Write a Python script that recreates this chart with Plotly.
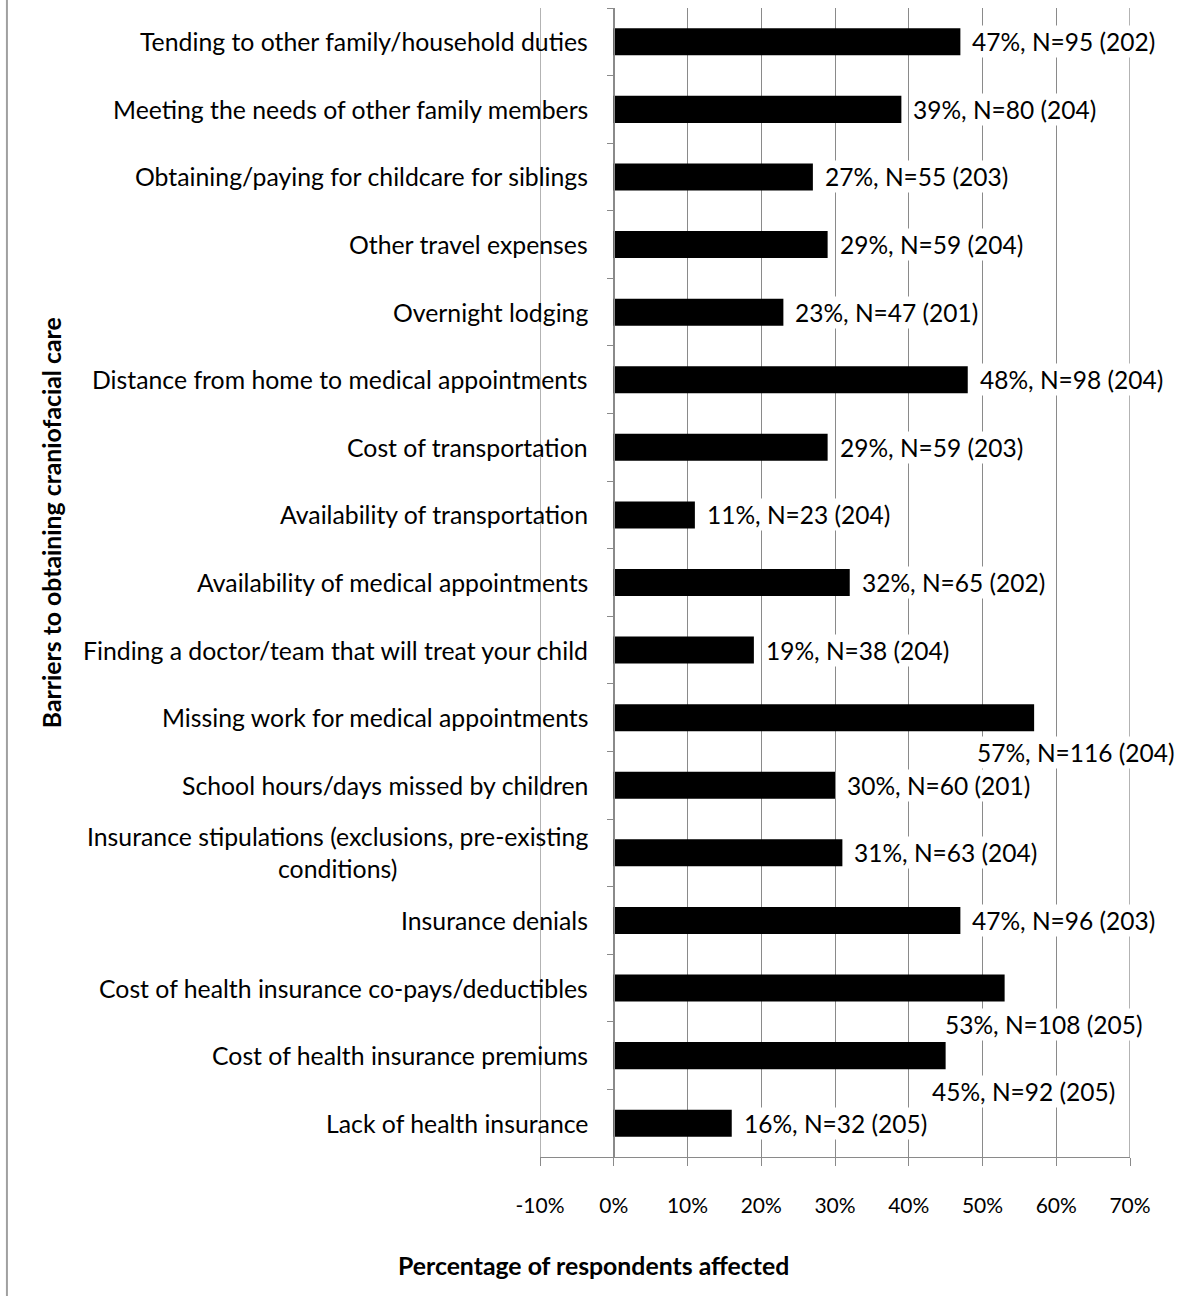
import plotly.graph_objects as go

categories = [
    "Tending to other family/household duties",
    "Meeting the needs of other family members",
    "Obtaining/paying for childcare for siblings",
    "Other travel expenses",
    "Overnight lodging",
    "Distance from home to medical appointments",
    "Cost of transportation",
    "Availability of transportation",
    "Availability of medical appointments",
    "Finding a doctor/team that will treat your child",
    "Missing work for medical appointments",
    "School hours/days missed by children",
    "Insurance stipulations (exclusions, pre-existing<br>conditions)",
    "Insurance denials",
    "Cost of health insurance co-pays/deductibles",
    "Cost of health insurance premiums",
    "Lack of health insurance",
]
percent = [47, 39, 27, 29, 23, 48, 29, 11, 32, 19, 57, 30, 31, 47, 53, 45, 16]
n_yes = [95, 80, 55, 59, 47, 98, 59, 23, 65, 38, 116, 60, 63, 96, 108, 92, 32]
n_total = [202, 204, 203, 204, 201, 204, 203, 204, 202, 204, 204, 201, 204, 203, 205, 205, 205]
x_ticks = [-10, 0, 10, 20, 30, 40, 50, 60, 70]

# label placement tweaks (pixel shifts) for labels that Excel pushed below the bar
label_shift = {10: (-59, -35), 14: (-62, -36), 15: (-16, -36)}

FONT = "Lato"
GRID = "#8a8a8a"
FS = 24.8

fig = go.Figure()
fig.add_trace(go.Bar(
    y=categories, x=percent, orientation="h",
    marker=dict(color="black", line=dict(width=0)),
    hoverinfo="skip",
))

annotations = []
for i, (c, p, a, t) in enumerate(zip(categories, percent, n_yes, n_total)):
    annotations.append(dict(
        x=0, y=c, xref="x", yref="y", text=c, showarrow=False,
        xanchor="right", align="center", xshift=-24,
        font=dict(family=FONT, size=FS, color="black"),
    ))
    xs, ys = label_shift.get(i, (10, 0))
    annotations.append(dict(
        x=p, y=c, xref="x", yref="y", text=f"{p}%, N={a} ({t})", showarrow=False,
        xanchor="left", xshift=xs, yshift=ys, bgcolor="white", borderpad=1,
        font=dict(family=FONT, size=24.5, color="black"),
    ))

annotations.append(dict(
    x=-0.828, y=0.552, xref="paper", yref="paper", showarrow=False,
    text="<b>Barriers to obtaining craniofacial care</b>", textangle=-90,
    font=dict(family=FONT, size=FS, color="black"),
    xanchor="center", yanchor="middle",
))
annotations.append(dict(
    x=0.0915, y=0, xref="paper", yref="paper", showarrow=False,
    text="<b>Percentage of respondents affected</b>",
    font=dict(family=FONT, size=FS, color="black"),
    xanchor="center", yanchor="middle", yshift=-108,
))

# gridlines at the two range ends (Plotly hides grid lines on the plot edges)
edge_grid = [dict(type="line", xref="x", yref="paper", x0=v, x1=v, y0=0, y1=1,
                  line=dict(color=GRID, width=1.3), layer="below")
             for v in (x_ticks[0], x_ticks[-1])]

fig.update_layout(
    width=1177, height=1296,
    margin=dict(l=540, r=47, t=8, b=139),
    paper_bgcolor="white", plot_bgcolor="white",
    showlegend=False, bargap=0.6,
    font=dict(family=FONT, size=20, color="black"),
    annotations=annotations,
    shapes=[dict(type="line", xref="paper", yref="paper",
                 x0=-0.9035, x1=-0.9035, y0=-0.2, y1=1.01,
                 line=dict(color="#a0a0a0", width=2))] + edge_grid,
    xaxis=dict(
        range=[-10, 70], tickvals=x_ticks, ticktext=[f"{v}%" for v in x_ticks],
        showgrid=True, gridcolor=GRID, gridwidth=1.3, zeroline=False,
        showline=True, linecolor=GRID, linewidth=1.3,
        ticks="outside", ticklen=8, tickcolor=GRID, tickwidth=1.3,
        ticklabelstandoff=22,
        tickfont=dict(family=FONT, size=21, color="black"),
        domain=[0, 1], fixedrange=True,
    ),
    yaxis=dict(
        categoryorder="array", categoryarray=categories, autorange="reversed",
        anchor="free", position=0.125,
        showline=True, linecolor=GRID, linewidth=1.3,
        ticks="outside", ticklen=7, tickcolor=GRID, tickwidth=1.3,
        tickson="boundaries", showticklabels=False, showgrid=False,
        fixedrange=True,
    ),
)

fig.write_html("out.html")
